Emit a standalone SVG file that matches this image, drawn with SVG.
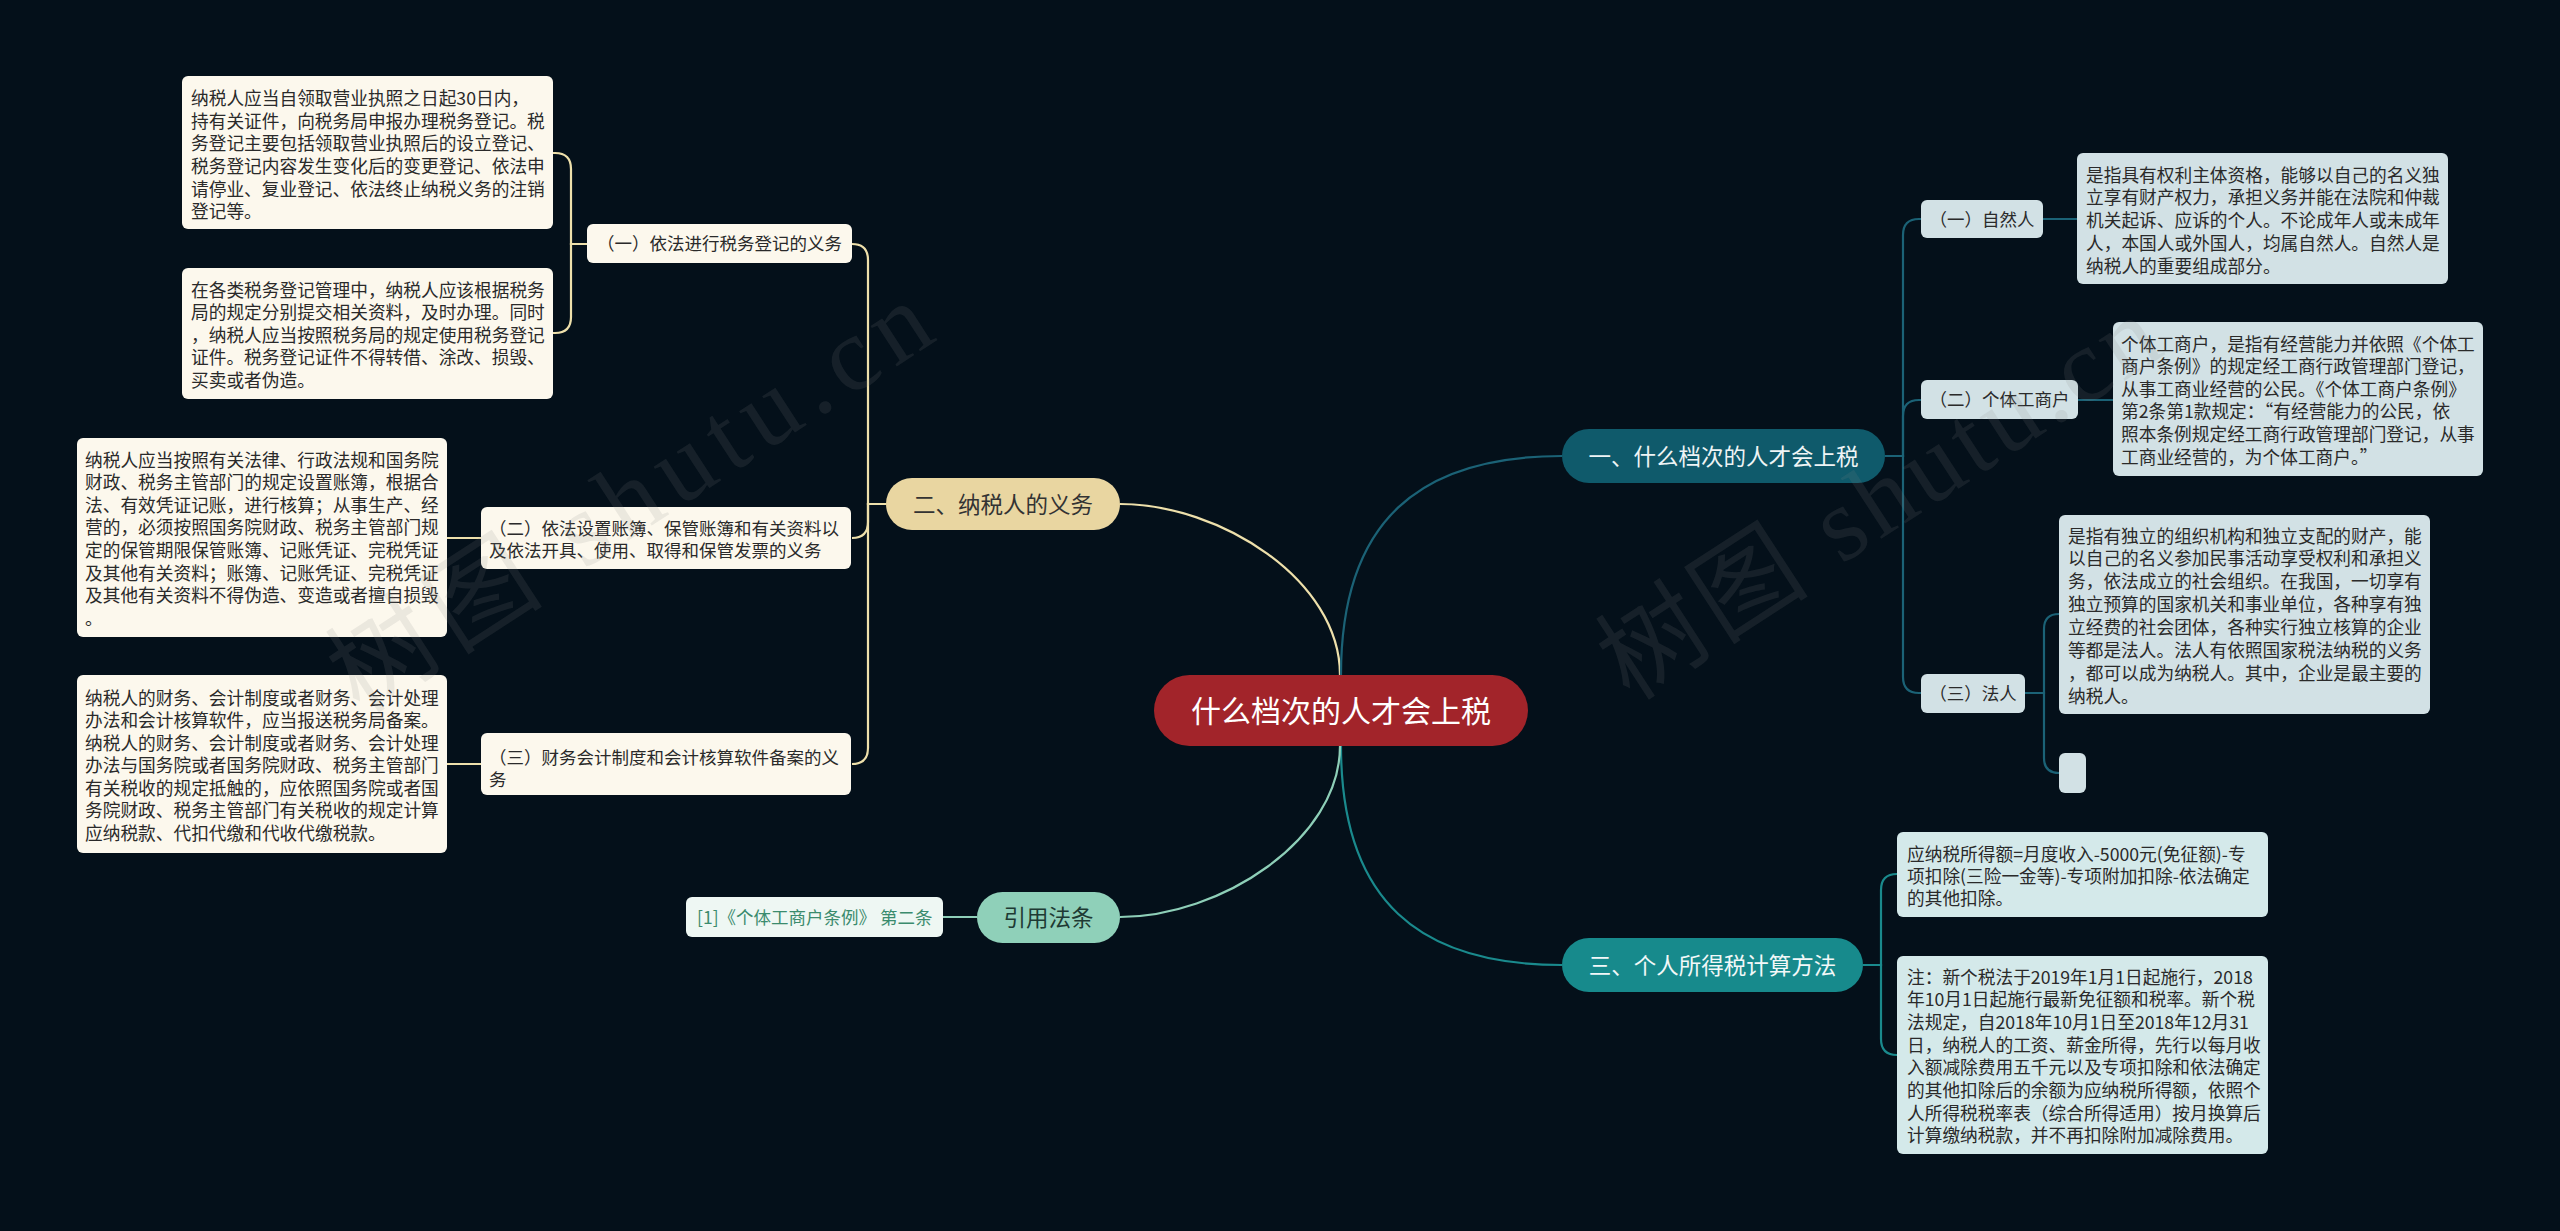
<svg xmlns="http://www.w3.org/2000/svg" width="2560" height="1231" viewBox="0 0 2560 1231">
<style>
text{font-family:"Noto Sans CJK SC","Noto Sans",sans-serif}
.t{font-size:17.7px;fill:#2a2a2a}
.s{font-size:17.5px;fill:#2a2a2a}
.b{font-size:22.5px}
.cream{fill:#fcf8ed}
.blue{fill:#d2e1e5}
.cyan{fill:#d4e9ea}
.l2{fill:none;stroke:#eee0ab;stroke-width:2.2}
.l1{fill:none;stroke:#1b6276;stroke-width:2.2}
.l3{fill:none;stroke:#1a8a8d;stroke-width:2.2}
.l4{fill:none;stroke:#8ecfb8;stroke-width:2.2}
.wm{font-family:"Liberation Serif","Noto Sans CJK SC",serif;font-size:105px;fill:#8a8a8a;fill-opacity:0.14}
</style>
<rect x="0" y="0" width="2560" height="1231" fill="#04101a"/>

<g id="connectors">
<path class="l2" stroke-width="2.8" d="M1120,504 C1220,504 1340,580 1340,675"/>
<path class="l2" d="M886,504 H868 V260 Q868,244 852,244"/>
<path class="l2" d="M886,504 H868 V522 Q868,538 852,538"/>
<path class="l2" d="M886,504 H868 V748 Q868,764 852,764"/>
<path class="l2" d="M587,244 H571 V169 Q571,153 555,153 H553"/>
<path class="l2" d="M587,244 H571 V317 Q571,333 555,333 H553"/>
<path class="l2" d="M481,538 H447"/>
<path class="l2" d="M481,764 H447"/>

<path class="l1" stroke-width="2.8" d="M1341,675 C1341,520 1420,456 1562,456"/>
<path class="l1" d="M1885,456 H1903 V235 Q1903,219 1919,219 H1921"/>
<path class="l1" d="M1885,456 H1903 V416 Q1903,400 1919,400 H1921"/>
<path class="l1" d="M1885,456 H1903 V677 Q1903,693 1919,693 H1921"/>
<path class="l1" d="M2043,219 H2077"/>
<path class="l1" d="M2078,400 H2113"/>
<path class="l1" d="M2025,693 H2044 V629 Q2044,614 2059,614"/>
<path class="l1" d="M2025,693 H2044 V758 Q2044,773 2059,773"/>

<path class="l3" stroke-width="2.8" d="M1341,746 C1341,902 1420,965 1562,965"/>
<path class="l3" d="M1863,965 H1881 V890 Q1881,874 1897,874"/>
<path class="l3" d="M1863,965 H1881 V1039 Q1881,1055 1897,1055"/>

<path class="l4" stroke-width="2.8" d="M1120,917 C1220,917 1340,840 1340,746"/>
<path class="l4" d="M977,917 H943"/>
</g>

<g id="root">
<rect x="1154" y="675" width="374" height="71" rx="35.5" fill="#a2242a"/>
<text x="1341" y="721.5" text-anchor="middle" font-size="30" fill="#ffffff">什么档次的人才会上税</text>
</g>

<g id="branch-2">
<rect x="886" y="478" width="234" height="52" rx="26" fill="#e9d6a1"/>
<text class="b" x="1003" y="512.5" text-anchor="middle" fill="#333333">二、纳税人的义务</text>
</g>
<g id="b2-sub1">
<rect class="cream" x="587" y="224" width="265" height="39" rx="6"/>
<text class="s" x="719.5" y="250" text-anchor="middle">（一）依法进行税务登记的义务</text>
</g>
<g id="b2-leaf-a">
<rect class="cream" x="182" y="76" width="371" height="153" rx="6"/>
<text class="t" x="191" y="104.8"><tspan x="191">纳税人应当自领取营业执照之日起30日内，</tspan><tspan x="191" dy="22.7">持有关证件，向税务局申报办理税务登记。税</tspan><tspan x="191" dy="22.7">务登记主要包括领取营业执照后的设立登记、</tspan><tspan x="191" dy="22.7">税务登记内容发生变化后的变更登记、依法申</tspan><tspan x="191" dy="22.7">请停业、复业登记、依法终止纳税义务的注销</tspan><tspan x="191" dy="22.7">登记等。</tspan></text>
</g>
<g id="b2-leaf-b">
<rect class="cream" x="182" y="268" width="371" height="131" rx="6"/>
<text class="t" x="191" y="296.5"><tspan x="191">在各类税务登记管理中，纳税人应该根据税务</tspan><tspan x="191" dy="22.6">局的规定分别提交相关资料，及时办理。同时</tspan><tspan x="191" dy="22.6">，纳税人应当按照税务局的规定使用税务登记</tspan><tspan x="191" dy="22.6">证件。税务登记证件不得转借、涂改、损毁、</tspan><tspan x="191" dy="22.6">买卖或者伪造。</tspan></text>
</g>
<g id="b2-sub2">
<rect class="cream" x="481" y="507" width="370" height="62" rx="6"/>
<text class="s" x="489" y="534.5"><tspan x="489">（二）依法设置账簿、保管账簿和有关资料以</tspan><tspan x="489" dy="22.5">及依法开具、使用、取得和保管发票的义务</tspan></text>
</g>
<g id="b2-leaf-c">
<rect class="cream" x="77" y="438" width="370" height="199" rx="6"/>
<text class="t" x="85" y="466.5"><tspan x="85">纳税人应当按照有关法律、行政法规和国务院</tspan><tspan x="85" dy="22.6">财政、税务主管部门的规定设置账簿，根据合</tspan><tspan x="85" dy="22.6">法、有效凭证记账，进行核算；从事生产、经</tspan><tspan x="85" dy="22.6">营的，必须按照国务院财政、税务主管部门规</tspan><tspan x="85" dy="22.6">定的保管期限保管账簿、记账凭证、完税凭证</tspan><tspan x="85" dy="22.6">及其他有关资料；账簿、记账凭证、完税凭证</tspan><tspan x="85" dy="22.6">及其他有关资料不得伪造、变造或者擅自损毁</tspan><tspan x="85" dy="22.6">。</tspan></text>
</g>
<g id="b2-sub3">
<rect class="cream" x="481" y="733" width="370" height="62" rx="6"/>
<text class="s" x="489" y="763.5"><tspan x="489">（三）财务会计制度和会计核算软件备案的义</tspan><tspan x="489" dy="22">务</tspan></text>
</g>
<g id="b2-leaf-d">
<rect class="cream" x="77" y="675" width="370" height="178" rx="6"/>
<text class="t" x="85" y="704.5"><tspan x="85">纳税人的财务、会计制度或者财务、会计处理</tspan><tspan x="85" dy="22.5">办法和会计核算软件，应当报送税务局备案。</tspan><tspan x="85" dy="22.5">纳税人的财务、会计制度或者财务、会计处理</tspan><tspan x="85" dy="22.5">办法与国务院或者国务院财政、税务主管部门</tspan><tspan x="85" dy="22.5">有关税收的规定抵触的，应依照国务院或者国</tspan><tspan x="85" dy="22.5">务院财政、税务主管部门有关税收的规定计算</tspan><tspan x="85" dy="22.5">应纳税款、代扣代缴和代收代缴税款。</tspan></text>
</g>

<g id="branch-ref">
<rect x="977" y="892" width="143" height="51" rx="25.5" fill="#8fd0b9"/>
<text class="b" x="1048.5" y="925.5" text-anchor="middle" fill="#1e3a33">引用法条</text>
</g>
<g id="ref-leaf">
<rect x="686" y="897" width="257" height="40" rx="6" fill="#eef7f3"/>
<text x="697" y="924" font-size="17.5" fill="#3b8b6d">[1]《个体工商户条例》 第二条</text>
</g>

<g id="branch-1">
<rect x="1562" y="429" width="323" height="54" rx="27" fill="#0f5a6b"/>
<text class="b" x="1723.5" y="464.5" text-anchor="middle" fill="#eef4f5">一、什么档次的人才会上税</text>
</g>
<g id="b1-sub1">
<rect class="blue" x="1921" y="200" width="122" height="38" rx="6"/>
<text class="s" x="1982" y="225.5" text-anchor="middle">（一）自然人</text>
</g>
<g id="b1-leaf1">
<rect class="blue" x="2077" y="153" width="371" height="131" rx="6"/>
<text class="t" x="2086" y="181.5"><tspan x="2086">是指具有权利主体资格，能够以自己的名义独</tspan><tspan x="2086" dy="22.75">立享有财产权力，承担义务并能在法院和仲裁</tspan><tspan x="2086" dy="22.75">机关起诉、应诉的个人。不论成年人或未成年</tspan><tspan x="2086" dy="22.75">人，本国人或外国人，均属自然人。自然人是</tspan><tspan x="2086" dy="22.75">纳税人的重要组成部分。</tspan></text>
</g>
<g id="b1-sub2">
<rect class="blue" x="1921" y="380" width="157" height="39" rx="6"/>
<text class="s" x="1999.5" y="406" text-anchor="middle">（二）个体工商户</text>
</g>
<g id="b1-leaf2">
<rect class="blue" x="2113" y="322" width="370" height="154" rx="6"/>
<text class="t" x="2121" y="350.5"><tspan x="2121">个体工商户，是指有经营能力并依照《个体工</tspan><tspan x="2121" dy="22.6">商户条例》的规定经工商行政管理部门登记，</tspan><tspan x="2121" dy="22.6">从事工商业经营的公民。《个体工商户条例》</tspan><tspan x="2121" dy="22.6">第2条第1款规定：“有经营能力的公民，依</tspan><tspan x="2121" dy="22.6">照本条例规定经工商行政管理部门登记，从事</tspan><tspan x="2121" dy="22.6">工商业经营的，为个体工商户。”</tspan></text>
</g>
<g id="b1-sub3">
<rect class="blue" x="1921" y="674" width="104" height="39" rx="6"/>
<text class="s" x="1973" y="700" text-anchor="middle">（三）法人</text>
</g>
<g id="b1-leaf3">
<rect class="blue" x="2059" y="515" width="371" height="199" rx="6"/>
<text class="t" x="2068" y="542.5"><tspan x="2068">是指有独立的组织机构和独立支配的财产，能</tspan><tspan x="2068" dy="22.86">以自己的名义参加民事活动享受权利和承担义</tspan><tspan x="2068" dy="22.86">务，依法成立的社会组织。在我国，一切享有</tspan><tspan x="2068" dy="22.86">独立预算的国家机关和事业单位，各种享有独</tspan><tspan x="2068" dy="22.86">立经费的社会团体，各种实行独立核算的企业</tspan><tspan x="2068" dy="22.86">等都是法人。法人有依照国家税法纳税的义务</tspan><tspan x="2068" dy="22.86">，都可以成为纳税人。其中，企业是最主要的</tspan><tspan x="2068" dy="22.86">纳税人。</tspan></text>
</g>
<g id="b1-leaf4">
<rect class="blue" x="2059" y="753" width="27" height="40" rx="6"/>
</g>

<g id="branch-3">
<rect x="1562" y="938" width="301" height="54" rx="27" fill="#178a8c"/>
<text class="b" x="1712.5" y="973.5" text-anchor="middle" fill="#f2f8f8">三、个人所得税计算方法</text>
</g>
<g id="b3-leaf1">
<rect class="cyan" x="1897" y="832" width="371" height="85" rx="6"/>
<text class="t" x="1907" y="860.5"><tspan x="1907">应纳税所得额=月度收入-5000元(免征额)-专</tspan><tspan x="1907" dy="22">项扣除(三险一金等)-专项附加扣除-依法确定</tspan><tspan x="1907" dy="22">的其他扣除。</tspan></text>
</g>
<g id="b3-leaf2">
<rect class="cyan" x="1897" y="956" width="371" height="198" rx="6"/>
<text class="t" x="1907" y="983.5"><tspan x="1907">注：新个税法于2019年1月1日起施行，2018</tspan><tspan x="1907" dy="22.7">年10月1日起施行最新免征额和税率。新个税</tspan><tspan x="1907" dy="22.7">法规定，自2018年10月1日至2018年12月31</tspan><tspan x="1907" dy="22.7">日，纳税人的工资、薪金所得，先行以每月收</tspan><tspan x="1907" dy="22.7">入额减除费用五千元以及专项扣除和依法确定</tspan><tspan x="1907" dy="22.7">的其他扣除后的余额为应纳税所得额，依照个</tspan><tspan x="1907" dy="22.7">人所得税税率表（综合所得适用）按月换算后</tspan><tspan x="1907" dy="22.7">计算缴纳税款，并不再扣除附加减除费用。</tspan></text>
</g>

<g id="watermark">
<text class="wm" transform="translate(360,715) rotate(-33)" textLength="690">树图 shutu.cn</text>
<text class="wm" transform="translate(1630,702) rotate(-33)" textLength="640">树图 shutu.cn</text>
</g>
</svg>
